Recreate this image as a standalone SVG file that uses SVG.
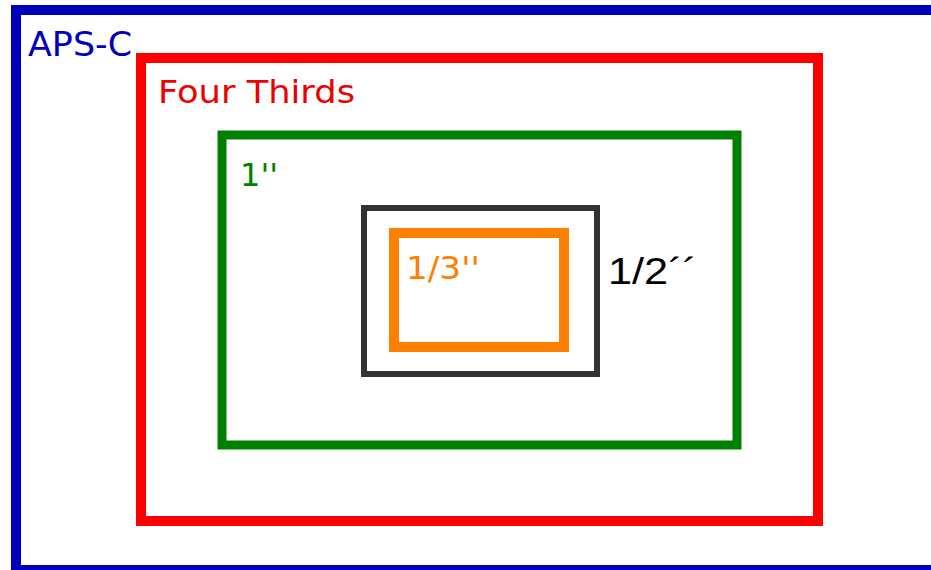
<svg xmlns="http://www.w3.org/2000/svg" width="931" height="570" viewBox="0 0 931 570">
<style>
rect{fill:none}
text{font-family:"DejaVu Sans",sans-serif}
</style>
<rect x="0" y="0" width="931" height="570" fill="#fff" style="fill:#fff"/>
<g id="aps-c">
<rect x="16" y="10" width="930" height="560" stroke="#0000bb" stroke-width="10"/>
<text x="28" y="56" font-size="33" fill="#0000bb" textLength="104" lengthAdjust="spacingAndGlyphs">APS-C</text>
</g>
<g id="four-thirds">
<rect x="141" y="58" width="677" height="463" stroke="#ff0000" stroke-width="10"/>
<text x="158" y="103" font-size="32" fill="#ee0000" textLength="197" lengthAdjust="spacingAndGlyphs">Four Thirds</text>
</g>
<g id="one-inch">
<rect x="222" y="135" width="515" height="310" stroke="#008000" stroke-width="9"/>
<text x="240" y="186" font-size="32" fill="#008000" textLength="38" lengthAdjust="spacingAndGlyphs">1''</text>
</g>
<g id="half-inch">
<rect x="364" y="208" width="233" height="166" stroke="#333333" stroke-width="6"/>
<text x="608" y="284" style="font-family:'Liberation Sans',Arial,sans-serif" font-size="36" fill="#000" textLength="89" lengthAdjust="spacingAndGlyphs">1/2´´</text>
</g>
<g id="third-inch">
<rect x="394" y="233" width="170" height="114" stroke="#ff8000" stroke-width="10"/>
<text x="406" y="279" font-size="32" fill="#ff8000" textLength="74" lengthAdjust="spacingAndGlyphs">1/3''</text>
</g>
<g id="connectors"/>
</svg>
